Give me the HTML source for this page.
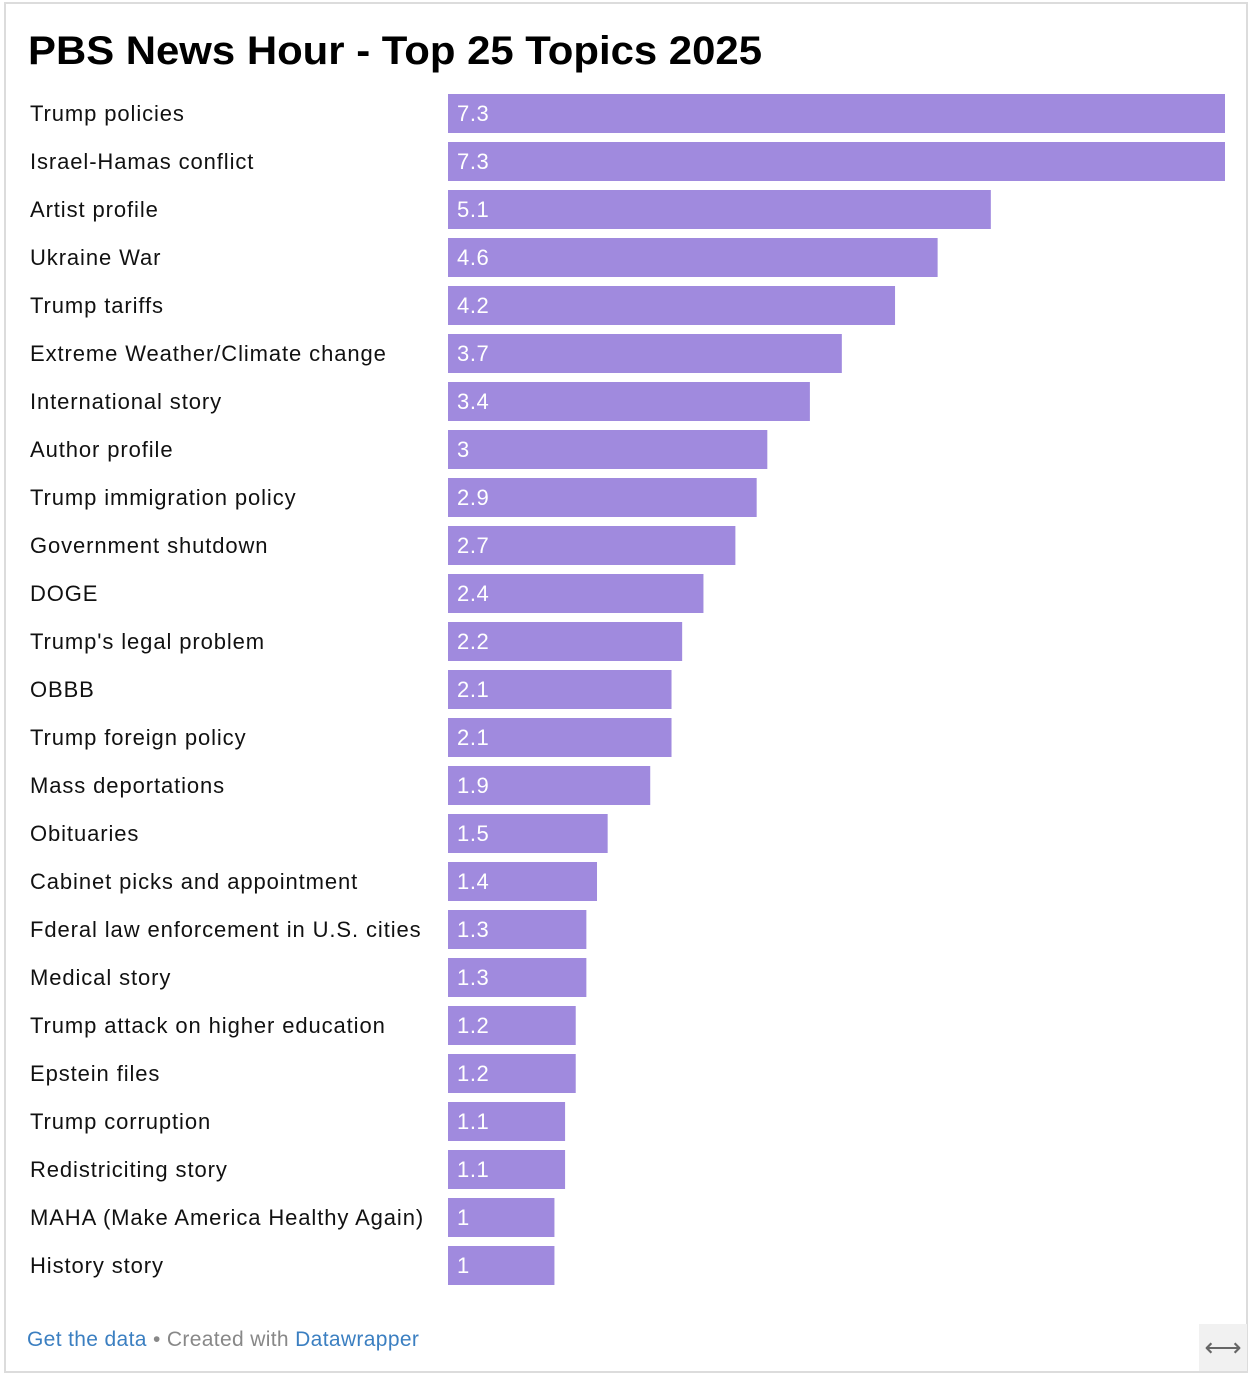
<!DOCTYPE html>
<html><head><meta charset="utf-8"><style>
html,body{margin:0;padding:0;background:#fff;}
svg{display:block;font-family:"Liberation Sans",sans-serif;}
</style></head><body>
<svg id="c" width="1250" height="1374">
<rect x="5" y="3" width="1242" height="1369" fill="#fff" stroke="#dcdcdc" stroke-width="2"/>
<text x="28" y="64" font-size="40" font-weight="bold" fill="#000" textLength="734" lengthAdjust="spacingAndGlyphs">PBS News Hour - Top 25 Topics 2025</text>
<g id="bars"></g>
<text x="27" y="1346" font-size="21" fill="#888" letter-spacing="0.35"><tspan fill="#3b7fc1">Get the data</tspan> • Created with <tspan fill="#3b7fc1">Datawrapper</tspan></text>
<rect x="1199" y="1324" width="48" height="47" fill="#f1f1f1"/>
<text x="1223" y="1356" font-size="26" fill="#666" text-anchor="middle">⟷</text>
</svg>
<script>
const categories=["Trump policies","Israel-Hamas conflict","Artist profile","Ukraine War","Trump tariffs","Extreme Weather/Climate change","International story","Author profile","Trump immigration policy","Government shutdown","DOGE","Trump's legal problem","OBBB","Trump foreign policy","Mass deportations","Obituaries","Cabinet picks and appointment","Fderal law enforcement in U.S. cities","Medical story","Trump attack on higher education","Epstein files","Trump corruption","Redistriciting story","MAHA (Make America Healthy Again)","History story"];
const values=[7.3,7.3,5.1,4.6,4.2,3.7,3.4,3,2.9,2.7,2.4,2.2,2.1,2.1,1.9,1.5,1.4,1.3,1.3,1.2,1.2,1.1,1.1,1,1];
const labels=["7.3","7.3","5.1","4.6","4.2","3.7","3.4","3","2.9","2.7","2.4","2.2","2.1","2.1","1.9","1.5","1.4","1.3","1.3","1.2","1.2","1.1","1.1","1","1"];
const NS="http://www.w3.org/2000/svg";
const x0=448, xMax=1225, maxV=7.3;
const xs=v=>x0+(xMax-x0)*v/maxV;
const ys=i=>94+i*48;
const g=document.getElementById('bars');
categories.forEach((c,i)=>{
  const y=ys(i);
  const t=document.createElementNS(NS,'text');
  t.setAttribute('x',30);t.setAttribute('y',y+27);t.setAttribute('font-size','22');t.setAttribute('fill','#111');
  t.setAttribute('letter-spacing','0.9');
  t.textContent=c;
  
  
  g.appendChild(t);
  const r=document.createElementNS(NS,'rect');
  r.setAttribute('x',x0);r.setAttribute('y',y);r.setAttribute('width',xs(values[i])-x0);r.setAttribute('height',39);r.setAttribute('fill','#a08ade');
  
  
  g.appendChild(r);
  const v=document.createElementNS(NS,'text');
  v.setAttribute('x',457);v.setAttribute('y',y+27);v.setAttribute('font-size','22');v.setAttribute('fill','#fff');
  v.setAttribute('letter-spacing','0.6');
  v.textContent=labels[i];
  
  
  g.appendChild(v);
});
</script>
</body></html>
